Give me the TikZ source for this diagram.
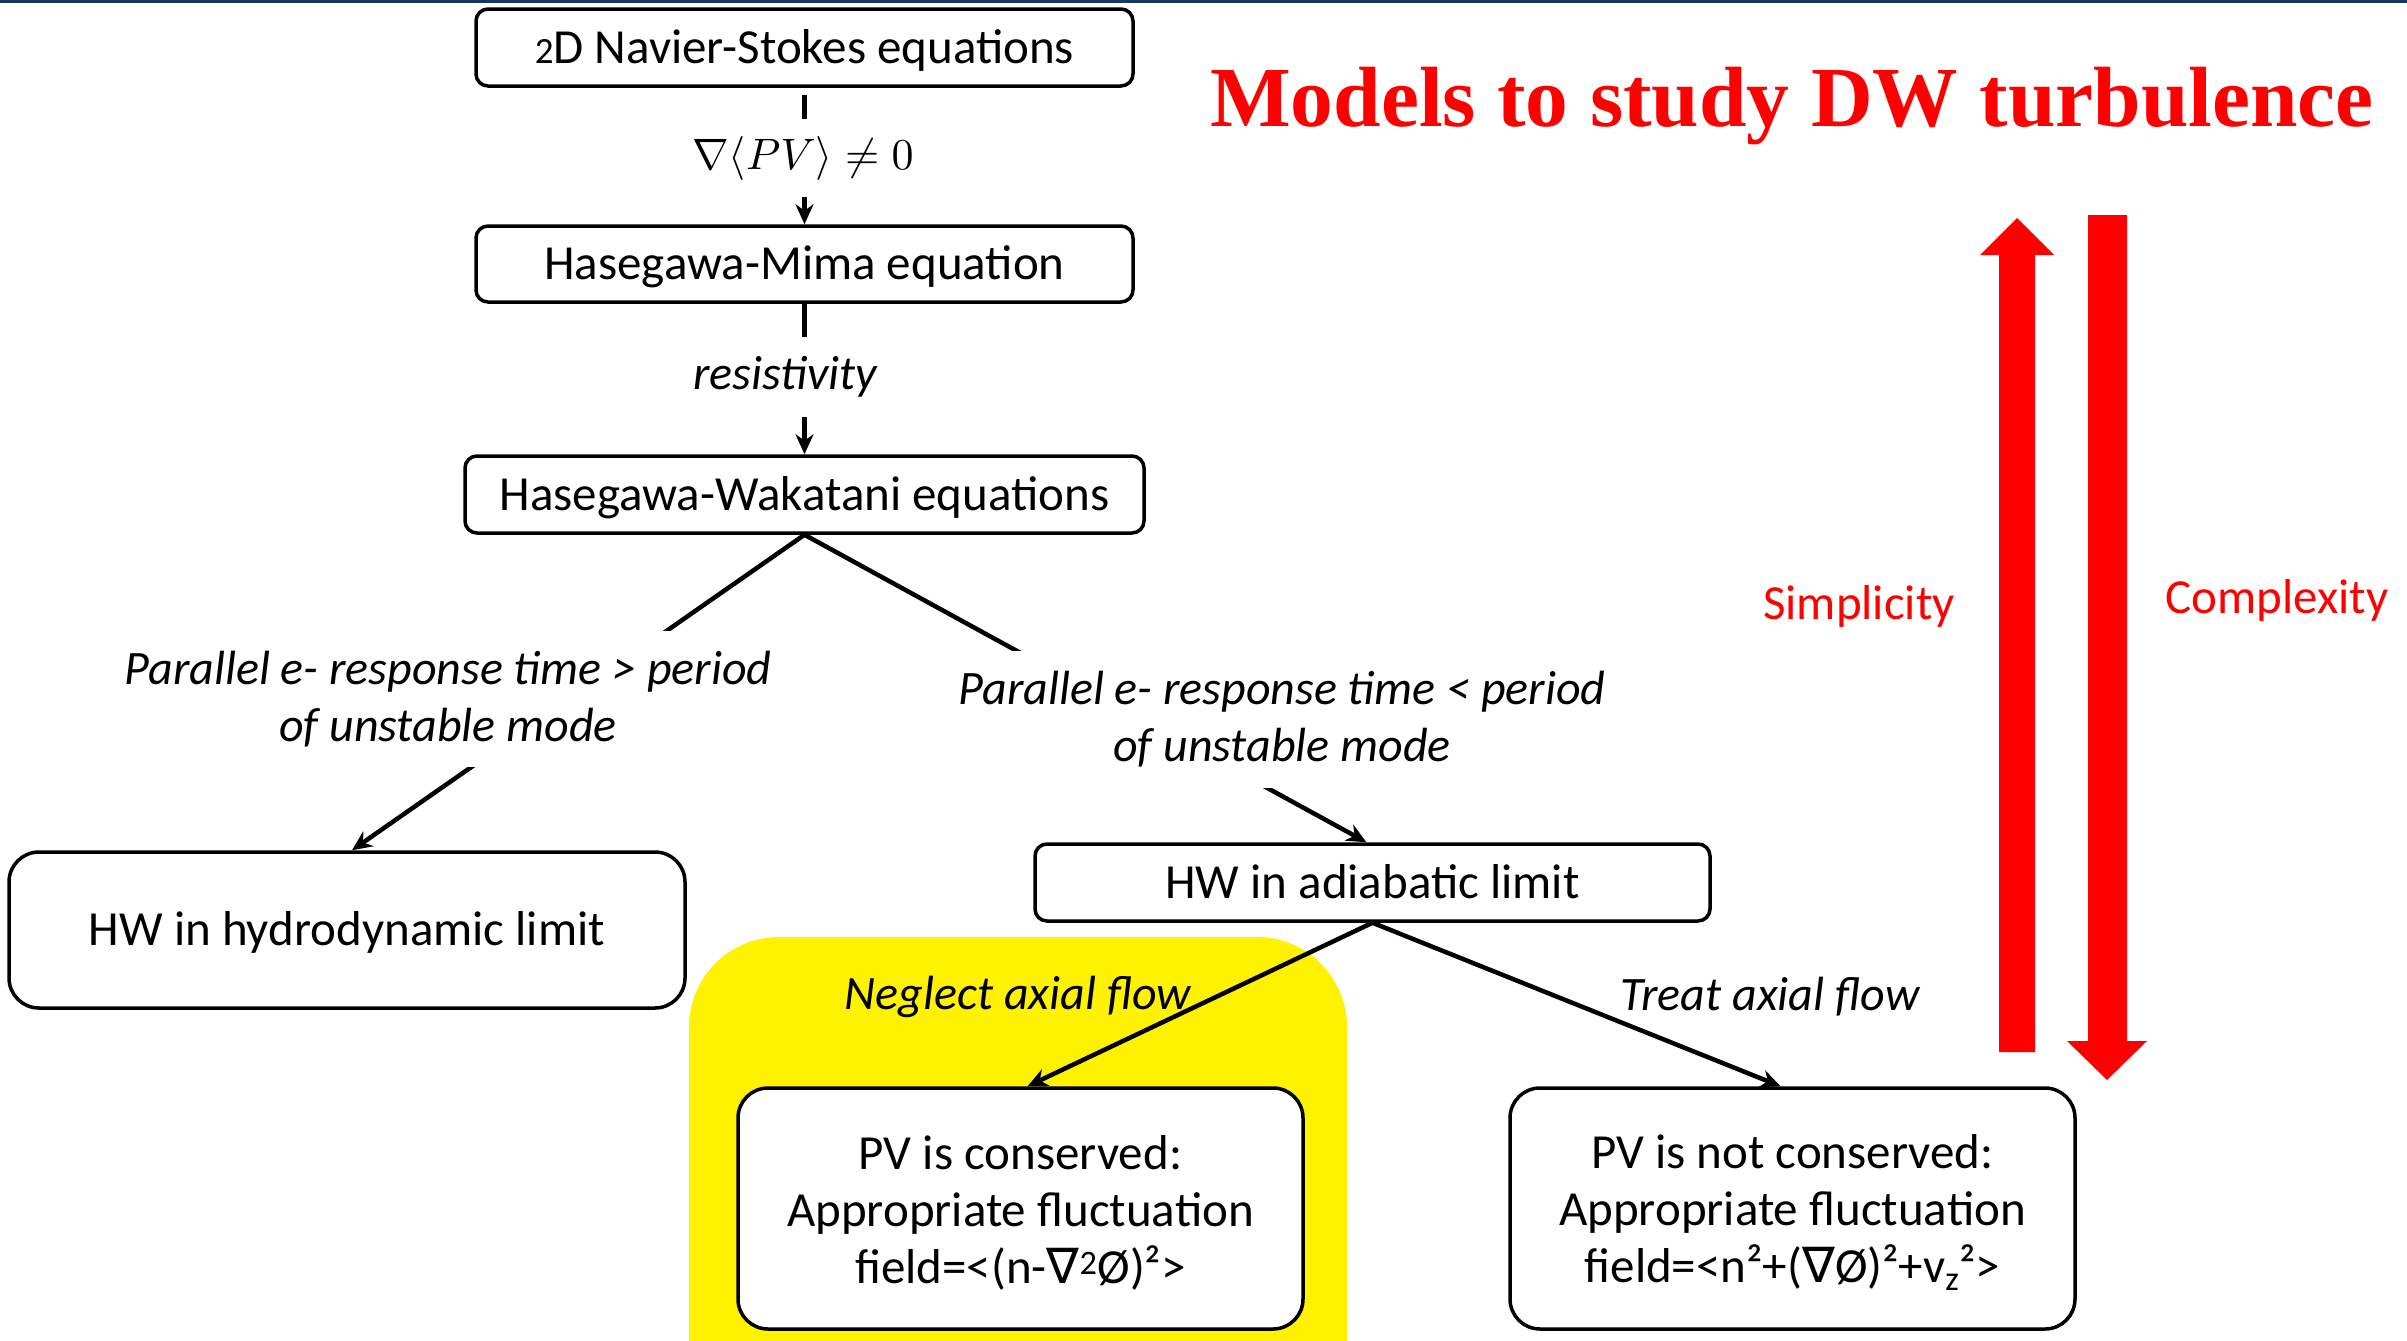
\documentclass[tikz,border=0pt]{standalone}
\usepackage{fontspec}
\setmainfont{Carlito}
\newfontfamily\titlefont{Liberation Serif}
\newfontfamily\djv{DejaVu Sans}
\usetikzlibrary{arrows.meta,calc}
\definecolor{topblue}{HTML}{17375E}
\begin{document}
\begin{tikzpicture}[x=1pt,y=-1pt,
  box/.style={draw, line width=3.5pt, rounded corners=12pt, fill=white, align=center, inner sep=0pt, font=\fontsize{49}{57}\selectfont, text height=38pt, text depth=7pt},
  bigbox/.style={box, rounded corners=30pt},
  multi/.style={font=\fontsize{49}{57}\selectfont, align=center, inner sep=0pt},
  conn/.style={line width=4.5pt, -{Stealth[length=20pt,width=18pt]}},
  lbl/.style={font=\fontsize{48}{57}\selectfont\itshape, align=center, inner sep=0pt},
  redtxt/.style={text=red, font=\fontsize{49}{58}\selectfont, inner sep=0pt},
  ]
\useasboundingbox (0,0) rectangle (2407,1341);
\clip (0,0) rectangle (2407,1341);
\fill[white] (0,0) rectangle (2407,1341);
\fill[topblue] (0,0) rectangle (2407,3);
\fill[yellow, rounded corners=90pt] (689,937) rectangle (1347,1440);

% nodes
\node[box, minimum width=657pt, minimum height=77pt] (ns) at (804.5,47.5) {{\fontsize{37}{40}\selectfont 2}D Navier-Stokes equations};
\node[box, minimum width=657pt, minimum height=76pt] (hm) at (804.5,264) {Hasegawa-Mima equation};
\node[box, minimum width=679pt, minimum height=77pt] (hw) at (804.5,494.5) {Hasegawa-Wakatani equations};
\node[bigbox, minimum width=676pt, minimum height=156pt] (hd) at (347,930) {HW in hydrodynamic limit};
\node[box, minimum width=675pt, minimum height=77pt] (ad) at (1372.5,882.5) {HW in adiabatic limit};
\node[bigbox, minimum width=565pt, minimum height=241pt] (pv1) at (1020.5,1208.5) {};
\node[multi] (pv1t) at ($(pv1.center)+(0,4)$) {PV is conserved:\\Appropriate fluctuation\\field=<(n-{\djv ∇}\textsuperscript{2}Ø)²>};
\node[bigbox, minimum width=565pt, minimum height=241pt] (pv2) at (1792.5,1208.5) {};
\node[multi] (pv2t) at ($(pv2.center)+(0,4)$) {PV is not conserved:\\Appropriate fluctuation\\field=<n²+({\djv ∇}Ø)²+v\textsubscript{z}²>};

% connectors
\draw[conn, dash pattern=on 24pt off 10pt, dash phase=27pt] (ns.south) -- (hm.north);
\node[fill=white, inner xsep=6pt, inner ysep=0pt, minimum height=78pt] (l1) at (803,158) {\scalebox{4.4}{$\nabla\langle PV\rangle\neq 0$}};

\draw[conn] (hm.south) -- (hw.north);
\node[lbl, fill=white, minimum height=80pt] (l2) at (785,377) {resistivity};

\draw[conn] (hw.south) -- ($(hd.north)+(5,0)$);
\node[lbl, fill=white, minimum height=136pt] (l3) at (448,699) {Parallel e- response time > period\\of unstable mode};

\draw[conn] (hw.south) -- ($(ad.north)+(-6,0)$);
\node[lbl, fill=white, minimum height=137pt] (l4) at (1282,719) {Parallel e- response time < period\\of unstable mode};

\node[lbl] (l5) at (1018,997) {Neglect axial flow};
\node[lbl] (l6) at (1770,997) {Treat axial flow};
\draw[conn] (ad.south) -- ($(pv1.north)+(7,0)$);
\draw[conn] (ad.south) -- ($(pv2.north)+(-12,0)$);

% red arrows
\fill[red] (1999,1052) -- (1999,255) -- (1980,255) -- (2017,218) -- (2054,255) -- (2035,255) -- (2035,1052) -- cycle;
\fill[red] (2088,215) -- (2088,1041) -- (2067,1041) -- (2107,1080) -- (2147,1041) -- (2127,1041) -- (2127,215) -- cycle;
\node[redtxt] (simp) at (1859,606) {Simplicity};
\node[redtxt] (comp) at (2277,600) {Complexity};

% title
\node[text=red, font=\titlefont\bfseries\fontsize{85.5}{100}\selectfont, anchor=base, inner sep=0pt] (title) at (1792,126) {Models to study DW turbulence};
\end{tikzpicture}
\end{document}
